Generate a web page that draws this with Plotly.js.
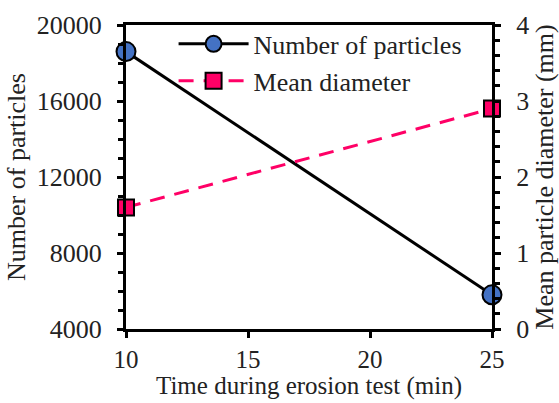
<!DOCTYPE html>
<html><head><meta charset="utf-8">
<script src="https://cdn.plot.ly/plotly-3.0.1.min.js"></script>
<style>html,body{margin:0;padding:0;background:#fff}#c{width:559px;height:403px}</style>
</head><body><div id="c"></div>
<script>
const time = [10, 25];
const numParticles = [18600, 5800];
const meanDiameter = [1.6, 2.9];
const xTitle = 'Time during erosion test (min)';

const F = "'Liberation Serif', 'Times New Roman', serif";
const FS = 26;
const traces = [
  {x: time, y: numParticles, name: 'Number of particles', mode: 'lines+markers', yaxis: 'y',
   line: {color: '#000', width: 3}, cliponaxis: false,
   marker: {symbol: 'circle', size: 19, color: '#4472C4', line: {color: '#000', width: 2}}},
  {x: time, y: meanDiameter, name: 'Mean diameter', mode: 'lines+markers', yaxis: 'y2',
   line: {color: '#FF0066', width: 3, dash: '15px,10px'}, cliponaxis: false,
   marker: {symbol: 'square', size: 16, color: '#FF0066', line: {color: '#000', width: 2}}}
];
const ax = {showgrid: false, zeroline: false, linecolor: '#000', linewidth: 3, ticks: 'outside',
  ticklen: 6, tickwidth: 3, tickcolor: '#000', tickformat: 'd',
  tickfont: {family: F, size: FS, color: '#222'}};
const layout = {
  width: 559, height: 403, margin: {l: 126, r: 67, t: 25, b: 74},
  paper_bgcolor: '#fff', plot_bgcolor: '#fff', showlegend: true,
  font: {family: F, color: '#222'},
  xaxis: Object.assign({}, ax, {range: [10, 25], tickvals: [10, 15, 20, 25], mirror: true, ticklabelstandoff: 0,
    tickfont: {family: F, size: 25, color: '#222'}}),
  yaxis: Object.assign({}, ax, {range: [4000, 20000], tickvals: [4000, 8000, 12000, 16000, 20000], ticklabelstandoff: 10,
    minor: {dtick: 1000, ticks: 'outside', ticklen: 5, tickwidth: 3, tickcolor: '#000'},
    title: {text: 'Number of particles', font: {family: F, size: FS, color: '#222'}, standoff: 4}}),
  yaxis2: Object.assign({}, ax, {range: [0, 4], tickvals: [0, 1, 2, 3, 4], overlaying: 'y', side: 'right', ticklabelstandoff: 10,
    minor: {dtick: 0.2, ticks: 'outside', ticklen: 5, tickwidth: 3, tickcolor: '#000'},
    title: {text: 'Mean particle diameter (mm)', font: {family: F, size: FS, color: '#222'}, standoff: 10}}),
  legend: {x: 0.13, y: 1.015, xanchor: 'left', yanchor: 'top', bgcolor: 'rgba(255,255,255,0)',
    font: {family: F, size: FS, color: '#222'}, itemwidth: 70, tracegroupgap: 0},
  annotations: [{text: xTitle, xref: 'paper', yref: 'paper', x: 0.5, y: -0.24, xanchor: 'center', yanchor: 'bottom',
    showarrow: false, font: {family: F, size: 25, color: '#222'}}]
};
Plotly.newPlot('c', traces, layout, {displayModeBar: false, staticPlot: true});
</script></body></html>
